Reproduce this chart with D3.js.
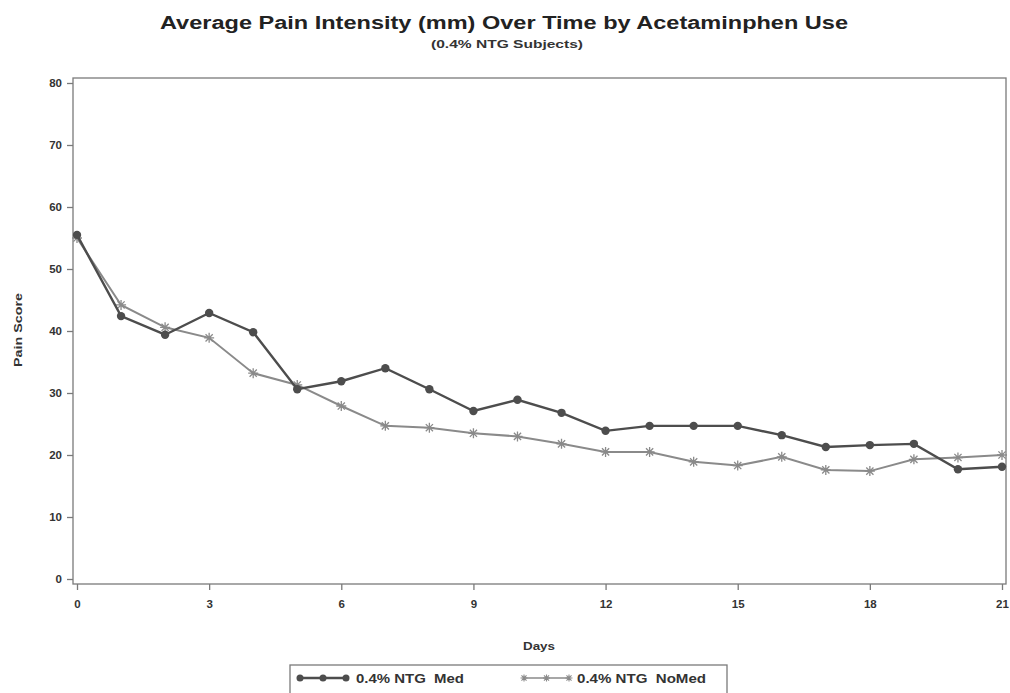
<!DOCTYPE html>
<html>
<head>
<meta charset="utf-8">
<script src="https://cdn.jsdelivr.net/npm/d3@7"></script>
<style>
  html, body { margin: 0; padding: 0; background: #fff; }
  svg { display: block; font-family: "Liberation Sans", Arial, sans-serif; }
</style>
</head>
<body>
<svg id="chart" width="1010" height="693"></svg>
<script>
// Study days and mean pain score (mm) per group
const days = d3.range(0, 22);
const medScores   = [55.5, 42.4, 39.4, 42.9, 39.8, 30.6, 31.9, 34.0, 30.6, 27.1, 28.9, 26.8, 23.9, 24.7, 24.7, 24.7, 23.2, 21.3, 21.6, 21.8, 17.7, 18.1];
const noMedScores = [55.0, 44.2, 40.6, 38.9, 33.2, 31.3, 27.9, 24.7, 24.4, 23.5, 23.0, 21.8, 20.5, 20.5, 18.9, 18.3, 19.7, 17.6, 17.4, 19.3, 19.6, 20.0];
const xTicks = [0, 3, 6, 9, 12, 15, 18, 21];
const yTicks = [0, 10, 20, 30, 40, 50, 60, 70, 80];
const seriesNames = ["0.4% NTG  Med", "0.4% NTG  NoMed"];

const svg = d3.select("#chart");

const frame = { left: 73, right: 1006, top: 78, bottom: 584 };
const x = d3.scaleLinear().domain([0, 21]).range([77, 1002]);
const y = d3.scaleLinear().domain([0, 80]).range([579, 83]);

const axisColor = "#7a7a7a";
const textColor = "#333";

// Title and subtitle (wide, extended lettering)
svg.append("text")
  .attr("x", 504).attr("y", 29)
  .attr("text-anchor", "middle")
  .attr("font-size", 18).attr("font-weight", "bold")
  .attr("fill", "#222")
  .attr("textLength", 688).attr("lengthAdjust", "spacingAndGlyphs")
  .text("Average Pain Intensity (mm) Over Time by Acetaminphen Use");
svg.append("text")
  .attr("x", 507).attr("y", 48)
  .attr("text-anchor", "middle")
  .attr("font-size", 10).attr("font-weight", "bold")
  .attr("fill", "#333")
  .attr("textLength", 152).attr("lengthAdjust", "spacingAndGlyphs")
  .text("(0.4% NTG Subjects)");

// Plot frame
svg.append("rect")
  .attr("x", frame.left).attr("y", frame.top)
  .attr("width", frame.right - frame.left)
  .attr("height", frame.bottom - frame.top)
  .attr("fill", "none")
  .attr("stroke", axisColor).attr("stroke-width", 1.3);

// Y axis
const yAxis = svg.append("g")
  .attr("transform", `translate(${frame.left},0)`)
  .call(d3.axisLeft(y).tickValues(yTicks).tickSize(6).tickPadding(5));
yAxis.select(".domain").remove();
yAxis.selectAll("line").attr("stroke", axisColor).attr("stroke-width", 1.3);
yAxis.selectAll("text")
  .attr("font-size", 11.5).attr("font-weight", "bold")
  .attr("fill", textColor)
  .attr("font-family", "Liberation Sans, Arial, sans-serif");

// X axis
const xAxis = svg.append("g")
  .attr("transform", `translate(0,${frame.bottom})`)
  .call(d3.axisBottom(x).tickValues(xTicks).tickSize(6).tickPadding(10));
xAxis.select(".domain").remove();
xAxis.selectAll("line").attr("stroke", axisColor).attr("stroke-width", 1.3);
xAxis.selectAll("text")
  .attr("font-size", 11.5).attr("font-weight", "bold")
  .attr("fill", textColor)
  .attr("font-family", "Liberation Sans, Arial, sans-serif");

// Axis titles
svg.append("text")
  .attr("transform", "translate(22,330) rotate(-90)")
  .attr("text-anchor", "middle")
  .attr("font-size", 11).attr("font-weight", "bold")
  .attr("fill", textColor)
  .attr("textLength", 74).attr("lengthAdjust", "spacingAndGlyphs")
  .text("Pain Score");
svg.append("text")
  .attr("x", 539).attr("y", 650)
  .attr("text-anchor", "middle")
  .attr("font-size", 11.5).attr("font-weight", "bold")
  .attr("fill", textColor)
  .attr("textLength", 32).attr("lengthAdjust", "spacingAndGlyphs")
  .text("Days");

const line = d3.line().x(d => x(d[0])).y(d => y(d[1]));

const medColor = "#4d4d4d";
const noMedColor = "#8a8a8a";

// Asterisk marker path centred on the origin
function starPath(r) {
  const d = r * 0.72;
  return `M${-r},0L${r},0M0,${-r}L0,${r}M${-d},${-d}L${d},${d}M${-d},${d}L${d},${-d}`;
}

// NoMed series (lighter, asterisk markers)
const noMedData = days.map((d, i) => [d, noMedScores[i]]);
svg.append("path")
  .datum(noMedData)
  .attr("d", line)
  .attr("fill", "none")
  .attr("stroke", noMedColor).attr("stroke-width", 2);
svg.append("g").selectAll("path")
  .data(noMedData).join("path")
  .attr("transform", d => `translate(${x(d[0])},${y(d[1])})`)
  .attr("d", starPath(5))
  .attr("stroke", noMedColor).attr("stroke-width", 1.3)
  .attr("fill", "none");

// Med series (dark, filled circles)
const medData = days.map((d, i) => [d, medScores[i]]);
svg.append("path")
  .datum(medData)
  .attr("d", line)
  .attr("fill", "none")
  .attr("stroke", medColor).attr("stroke-width", 2.4);
svg.append("g").selectAll("circle")
  .data(medData).join("circle")
  .attr("cx", d => x(d[0]))
  .attr("cy", d => y(d[1]))
  .attr("r", 4.2)
  .attr("fill", medColor);

// Legend
const legend = svg.append("g");
legend.append("rect")
  .attr("x", 290).attr("y", 665)
  .attr("width", 437).attr("height", 40)
  .attr("fill", "#fff")
  .attr("stroke", axisColor).attr("stroke-width", 1.3);

const lx1 = d3.scaleLinear().domain([0, 1]).range([300, 346]);
legend.append("line")
  .attr("x1", lx1(0)).attr("x2", lx1(1)).attr("y1", 678).attr("y2", 678)
  .attr("stroke", medColor).attr("stroke-width", 2.4);
legend.selectAll("circle.lg")
  .data([0, 0.5, 1]).join("circle")
  .attr("class", "lg")
  .attr("cx", d => lx1(d)).attr("cy", 678).attr("r", 3.5)
  .attr("fill", medColor);
legend.append("text")
  .attr("x", 356).attr("y", 683)
  .attr("font-size", 12.5).attr("font-weight", "bold")
  .attr("fill", textColor)
  .attr("xml:space", "preserve")
  .attr("textLength", 108).attr("lengthAdjust", "spacingAndGlyphs")
  .text(seriesNames[0]);

const lx2 = d3.scaleLinear().domain([0, 1]).range([524, 569]);
legend.append("line")
  .attr("x1", lx2(0)).attr("x2", lx2(1)).attr("y1", 678).attr("y2", 678)
  .attr("stroke", noMedColor).attr("stroke-width", 1.6);
legend.selectAll("path.lg")
  .data([0, 0.5, 1]).join("path")
  .attr("class", "lg")
  .attr("transform", d => `translate(${lx2(d)},678)`)
  .attr("d", starPath(3.5))
  .attr("stroke", noMedColor).attr("stroke-width", 1.1)
  .attr("fill", "none");
legend.append("text")
  .attr("x", 577).attr("y", 683)
  .attr("font-size", 12.5).attr("font-weight", "bold")
  .attr("fill", textColor)
  .attr("xml:space", "preserve")
  .attr("textLength", 129).attr("lengthAdjust", "spacingAndGlyphs")
  .text(seriesNames[1]);
</script>
</body>
</html>
